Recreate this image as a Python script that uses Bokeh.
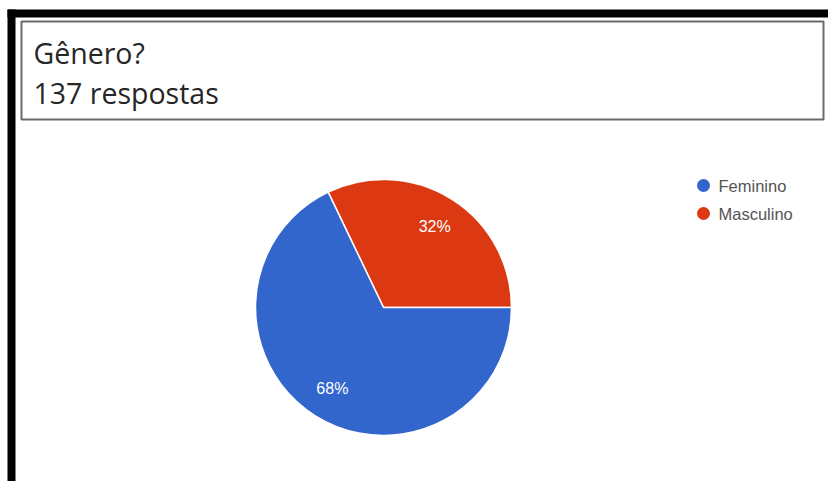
import math
from bokeh.plotting import figure
from bokeh.models import ColumnDataSource, Range1d
from bokeh.core.properties import value
from bokeh.embed import file_html
from bokeh.resources import INLINE

# ---- data ----
title_text = "Gênero?"
subtitle_text = "137 respostas"
categories = ["Feminino", "Masculino"]
counts = [93, 44]
colors = ["#3366CC", "#DC3912"]

# ---- layout (pixel coords, y measured from top) ----
W, H = 828, 481

def Y(py):
    return H - py

p = figure(width=W, height=H, output_backend="svg", toolbar_location=None,
           x_range=Range1d(0, W), y_range=Range1d(0, H),
           min_border=0, outline_line_color=None)
p.axis.visible = False
p.grid.visible = False
p.background_fill_color = "white"
p.border_fill_color = "white"

# frame
p.quad(left=[7], right=[15], top=[Y(9)], bottom=[Y(H)], fill_color="black", line_color=None)
p.quad(left=[7], right=[W], top=[Y(9)], bottom=[Y(17)], fill_color="black", line_color=None)

# title box
p.quad(left=[21], right=[823], top=[Y(21)], bottom=[Y(119)], fill_color="white",
       line_color="#6a6a6a", line_width=2)
p.text(x=[33], y=[Y(52)], text=[title_text], text_font=value("Open Sans"),
       text_font_size="28.5px", text_color="#262626", text_baseline="middle")
p.text(x=[33], y=[Y(92)], text=[subtitle_text], text_font=value("Open Sans"),
       text_font_size="28.5px", text_color="#262626", text_baseline="middle")

# pie: Masculino starts at east and goes anticlockwise, Feminino fills the rest
total = sum(counts)
cx, cy, r = 383, Y(307), 128
order = [1, 0]
starts, ends, cols, labels, lx, ly = [], [], [], [], [], []
a = 0.0
for i in order:
    span = 2 * math.pi * counts[i] / total
    starts.append(a)
    ends.append(a + span)
    cols.append(colors[i])
    mid = a + span / 2
    labels.append(f"{round(100 * counts[i] / total)}%")
    lx.append(cx + 0.75 * r * math.cos(mid))
    ly.append(cy + 0.75 * r * math.sin(mid))
    a += span

src = ColumnDataSource(dict(start=starts, end=ends, color=cols))
p.wedge(x=cx, y=cy, radius=r, start_angle="start", end_angle="end",
        fill_color="color", line_color="white", line_width=1.5, source=src)
p.text(x=lx, y=ly, text=labels, text_font=value("Liberation Sans"), text_font_size="16px",
       text_color="white", text_align="center", text_baseline="middle")

# legend
leg_x, leg_y0, leg_dy = 703, 185, 28
leg_ys = [Y(leg_y0 + k * leg_dy) for k in range(len(categories))]
p.scatter(x=[leg_x] * len(categories), y=leg_ys, size=13, marker="circle",
          fill_color=colors, line_color=None)
p.text(x=[leg_x + 15] * len(categories), y=leg_ys, text=categories,
       text_font=value("Liberation Sans"), text_font_size="16.5px", text_color="#555555",
       text_baseline="middle")

open("out.html", "w").write(file_html(p, INLINE))
